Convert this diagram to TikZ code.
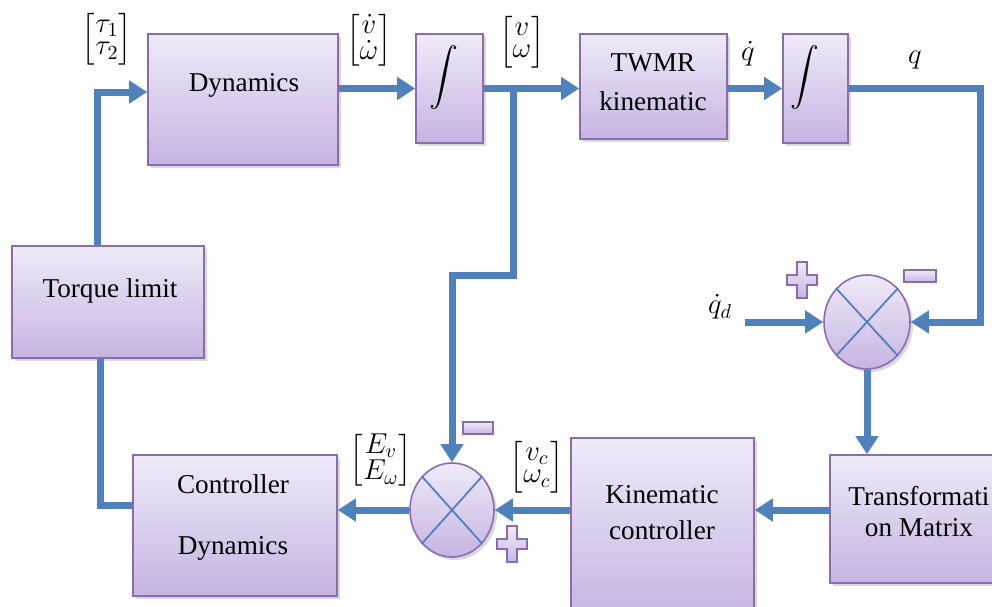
\documentclass[tikz,border=0pt]{standalone}
\usepackage{amsmath}
\usepackage{fontspec}
\setmainfont{Liberation Serif}
\usepackage{tikz}
\usetikzlibrary{arrows.meta,shapes.geometric,shadows}
\definecolor{linkblue}{RGB}{79,129,189}
\definecolor{boxtop}{RGB}{240,234,248}
\definecolor{boxbot}{RGB}{198,180,226}
\definecolor{boxline}{RGB}{140,108,176}
\newcommand{\colvec}[2]{\renewcommand{\arraystretch}{0.7}\Bigl[\begin{array}{@{}c@{}}#1\\#2\end{array}\Bigr]}

\tikzset{
  block/.style={draw=boxline,thick,top color=boxtop,bottom color=boxbot,
    drop shadow={opacity=0.3,shadow xshift=1.5pt,shadow yshift=-1.5pt}},
  sumjunction/.style={ellipse,block,minimum width=43pt,minimum height=47pt,inner sep=0pt},
  link/.style={draw=linkblue,line width=3.5pt},
  arr/.style={link,-{Triangle[length=9pt,width=11pt]}},
  cross/.style={draw=linkblue,line width=0.9pt},
  signshape/.style={draw=boxline,thick,top color=boxtop,bottom color=boxbot},
  sig/.style={font=\fontsize{13.6}{16.3}\selectfont,inner sep=1pt}
}

\begin{document}
\begin{tikzpicture}[x=0.5pt,y=-0.5pt,font=\fontsize{13.6}{16.3}\selectfont]
  \clip (0,0) rectangle (992,606);
  % blocks
  \node[block,minimum width=95pt,minimum height=65.5pt] (dyn) at (243,99.5) {};
  \node[block,minimum width=33.5pt,minimum height=54.5pt] (int1) at (449.5,88.5) {};
  \node[block,minimum width=73.5pt,minimum height=52.5pt] (twmr) at (653.5,86.5) {};
  \node[block,minimum width=32.5pt,minimum height=54.5pt] (int2) at (815.5,88.5) {};
  \node[block,minimum width=96pt,minimum height=56pt] (torque) at (108,302) {};
  \node[block,minimum width=102pt,minimum height=70.5pt] (ctrldyn) at (235,525.5) {};
  \node[block,minimum width=91.5pt,minimum height=91pt] (kinctrl) at (662.5,529) {};
  \node[block,minimum width=90pt,minimum height=64pt] (transf) at (920,519) {};
  \node[sumjunction] (sumq) at (867,322) {};
  \node[sumjunction,minimum width=42pt] (sume) at (452,510) {};
  \draw[cross] (sumq.north west) -- (sumq.south east) (sumq.north east) -- (sumq.south west);
  \draw[cross] (sume.north west) -- (sume.south east) (sume.north east) -- (sume.south west);

  % block texts
  \node (dyntext) at (244,85) {Dynamics};
  \node (int1text) at (444,77) {$\displaystyle\int$};
  \node[align=center] (twmrtext) at (653,82.5) {TWMR\\[3pt]kinematic};
  \node (int2text) at (805,77) {$\displaystyle\int$};
  \node (torquetext) at (110,291) {Torque limit};
  \node[align=center] (ctrldyntext) at (233,517.5) {Controller\\[14pt]Dynamics};
  \node[align=center] (kinctrltext) at (662,513) {Kinematic\\[1.7pt]controller};
  \node[align=center] (transftext) at (919,512) {Transformati\\[-0.8pt]on Matrix};

  % links
  \coordinate (tap) at (513,88.5);
  \coordinate (tapbend) at (513,275);
  \coordinate (qcorner) at (980,88.5);
  \coordinate (qdin) at (745,322);
  \draw[arr] ([xshift=-5.5pt]torque.north) |- ([yshift=3.75pt]dyn.west);
  \draw[arr] (dyn.east |- int1.west) -- (int1.west);
  \draw[arr] (int1.east) -- (int1.east -| twmr.west);
  \draw[arr] (tap) -- (tapbend) -| (sume.north);
  \draw[arr] (twmr.east |- int2.west) -- (int2.west);
  \draw[arr] (int2.east) -- (qcorner) |- (sumq.east);
  \draw[arr] (qdin) -- (sumq.west);
  \draw[arr] (sumq.south) -- (sumq.south |- transf.north);
  \draw[arr] (transf.west |- sume) -- (kinctrl.east |- sume);
  \draw[arr] (kinctrl.west |- sume.east) -- (sume.east);
  \draw[arr] (sume.west) -- (sume.west -| ctrldyn.east);
  \draw[link] ([yshift=10.25pt]ctrldyn.west) -| ([xshift=-4pt]torque.south);

  % signs
  \draw[signshape,shift={(802,280)}] (-5,-18) -- (5,-18) -- (5,-5) -- (15,-5) -- (15,5) -- (5,5)
    -- (5,18) -- (-5,18) -- (-5,5) -- (-15,5) -- (-15,-5) -- (-5,-5) -- cycle;
  \draw[signshape,shift={(512,544)}] (-5,-18) -- (5,-18) -- (5,-5) -- (15,-5) -- (15,5) -- (5,5)
    -- (5,18) -- (-5,18) -- (-5,5) -- (-15,5) -- (-15,-5) -- (-5,-5) -- cycle;
  \draw[signshape] (904,270) rectangle (936,282);
  \draw[signshape] (463,422) rectangle (493,434);

  % signal labels
  \node[sig] (tau) at (107,39) {$\colvec{\tau_1}{\tau_2}$};
  \node[sig] (vwdot) at (369,40) {$\colvec{\dot v}{\dot\omega}$};
  \node[sig] (vw) at (522,42) {$\colvec{v}{\omega}$};
  \node (qdot) at (748,54) {$\dot q$};
  \node (q) at (915,60) {$q$};
  \node (qd) at (720,307) {$\dot q_d$};
  \node[sig] (err) at (381,460) {$\colvec{E_v}{E_\omega}$};
  \node[sig] (vwc) at (537,467) {$\colvec{v_c}{\omega_c}$};
\end{tikzpicture}
\end{document}
